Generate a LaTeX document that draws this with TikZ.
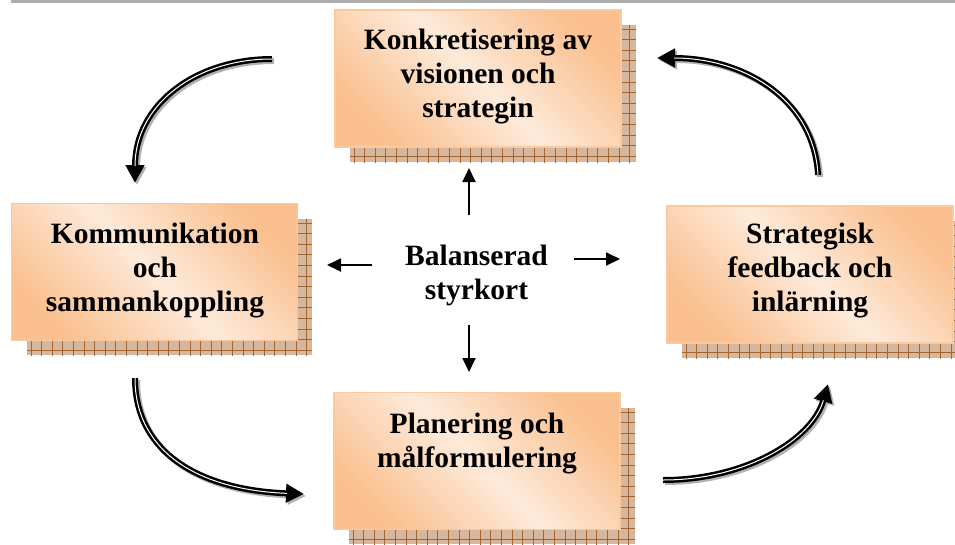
\documentclass[tikz,border=0pt]{standalone}
\usepackage{fontspec}
\setmainfont{Liberation Serif}
\usetikzlibrary{arrows.meta}
\definecolor{orng}{HTML}{FAC08F}
\definecolor{pale}{HTML}{FDEADA}
\definecolor{edgec}{HTML}{FBC9A0}
\definecolor{shbg}{HTML}{D6B79D}
\definecolor{shln}{HTML}{A5652F}
\newcommand\hatchshadow[4]{%
  \begin{scope}
    \clip (#1,#2) rectangle (#3,#4);
    \fill[shbg] (#1,#2) rectangle (#3,#4);
    \foreach \k in {0,...,30}
      \draw[shln, line width=0.7pt] ({#1+4+\k*10.6},#2) -- ++(0,200);
    \foreach \k in {0,...,16}
      \draw[shln, line width=0.7pt] (#1,{#2+4+\k*10.6}) -- ++(330,0);
  \end{scope}}
\begin{document}
\begin{tikzpicture}[x=1pt,y=-1pt,
  cardbox/.style={rectangle, draw=edgec, line width=1.5pt,
    top color=orng, bottom color=orng, middle color=pale, shading angle=-45,
    inner sep=0pt, minimum width=286pt, minimum height=137pt},
  cardtext/.style={anchor=base, inner sep=0pt,
    font=\fontsize{29.5}{34}\selectfont\bfseries},
  thinarrow/.style={line width=1.8pt, -{Triangle[length=14pt,width=13pt]}},
  arrshadow/.style={gray!60, line width=6pt, -{Triangle[length=18pt,width=18pt]},
    transform canvas={shift={(2pt,-2pt)}}},
  arrmain/.style={black, line width=6pt, -{Triangle[length=18pt,width=18pt]}},
  arrinner/.style={white, line width=1pt, shorten >=17pt}]
\useasboundingbox (0,0) rectangle (955,544);
\fill[gray!65] (11,0) rectangle (955,3);

% shadows
\hatchshadow{350}{25}{636}{162}
\hatchshadow{27}{219}{312}{355}
\hatchshadow{682}{221}{968}{358}
\hatchshadow{349}{408}{635}{544}

% boxes
\node[cardbox] (k1) at (478,78.5) {};
\node[cardbox] (k2) at (154.5,272) {};
\node[cardbox] (k3) at (810,274.5) {};
\node[cardbox] (k4) at (477,461) {};

\node[cardtext] (t1) at (478,49) {\parbox[t]{280pt}{\centering Konkretisering av\\visionen och\\strategin}};
\node[cardtext] (t2) at (155,243) {\parbox[t]{280pt}{\centering Kommunikation\\och\\sammankoppling}};
\node[cardtext] (t3) at (810,243) {\parbox[t]{280pt}{\centering Strategisk\\feedback och\\inlärning}};
\node[cardtext] (t4) at (477,433) {\parbox[t]{280pt}{\centering Planering och\\målformulering}};

\node[cardtext] (bsc) at (476.5,265) {\parbox[t]{200pt}{\centering Balanserad\\styrkort}};

% centre arrows
\coordinate (uS) at (469,215); \coordinate (uE) at (469,168);
\coordinate (dS) at (469,325); \coordinate (dE) at (469,372);
\coordinate (lS) at (372,265); \coordinate (lE) at (327,265);
\coordinate (rS) at (574,259); \coordinate (rE) at (620,259);
\draw[thinarrow] (uS) -- (uE);
\draw[thinarrow] (dS) -- (dE);
\draw[thinarrow] (lS) -- (lE);
\draw[thinarrow] (rS) -- (rE);

% curved arrows
\coordinate (a1s) at (272,59);  \coordinate (a1e) at (135,183);
\coordinate (a2s) at (135,378); \coordinate (a2e) at (304,494);
\coordinate (a3s) at (663,480); \coordinate (a3e) at (828,384);
\coordinate (a4s) at (818,175); \coordinate (a4e) at (657,58);

\foreach \st in {arrshadow,arrmain,arrinner}{
  \draw[\st] (a1s) .. controls (195,59) and (135,105) .. (a1e);
  \draw[\st] (a2s) .. controls (135,453) and (200,490) .. (a2e);
  \draw[\st] (a3s) .. controls (745,480) and (812,440) .. (a3e);
  \draw[\st] (a4s) .. controls (814,100) and (745,58) .. (a4e);
}
\end{tikzpicture}
\end{document}
